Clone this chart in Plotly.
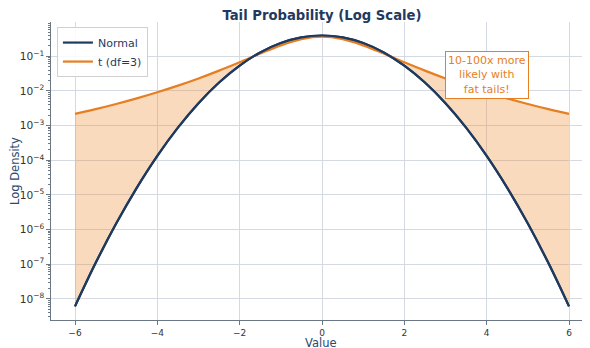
import plotly.graph_objects as go

x_vals = [-6.0, -5.5, -5.0, -4.5, -4.0, -3.5, -3.0, -2.5, -2.0, -1.5, -1.0, -0.5, 0.0,
          0.5, 1.0, 1.5, 2.0, 2.5, 3.0, 3.5, 4.0, 4.5, 5.0, 5.5, 6.0]
normal_half = [6.0759e-9, 1.0764e-7, 1.4867e-6, 1.5984e-5, 1.3383e-4, 8.7268e-4, 4.4318e-3,
               1.7528e-2, 5.3991e-2, 0.12952, 0.24197, 0.35207, 0.39894]
t3_half = [2.1749e-3, 2.9922e-3, 4.2194e-3, 6.1195e-3, 9.1633e-3, 1.4224e-2, 2.2972e-2,
           3.8662e-2, 6.7510e-2, 0.12002, 0.20675, 0.31318, 0.36755]
normal_vals = normal_half + normal_half[-2::-1]
t3_vals = t3_half + t3_half[-2::-1]

x_ticks = [-6, -4, -2, 0, 2, 4, 6]
annotation_text = "10-100x more<br>likely with<br>fat tails!"

NAVY = "#1f3a5f"
ORANGE = "#e67e22"
LABEL = "#2c4a6e"
FONT = "DejaVu Sans"

fig = go.Figure()
fig.add_trace(go.Scatter(
    x=x_vals, y=normal_vals, mode="lines", name="Normal",
    line=dict(color=NAVY, width=2.2, shape="spline"),
))
fig.add_trace(go.Scatter(
    x=x_vals, y=t3_vals, mode="lines", name="fill", showlegend=False, hoverinfo="skip",
    line=dict(color="rgba(0,0,0,0)", width=0, shape="spline"),
    fill="tonexty", fillcolor="rgba(235,140,50,0.32)",
))
fig.add_trace(go.Scatter(
    x=x_vals, y=t3_vals, mode="lines", name="t (df=3)",
    line=dict(color=ORANGE, width=2.2, shape="spline"),
))
fig.add_trace(go.Scatter(
    x=x_vals, y=normal_vals, mode="lines", name="Normal", showlegend=False, hoverinfo="skip",
    line=dict(color=NAVY, width=2.2, shape="spline"),
))

fig.add_annotation(
    x=4.0, y=-1.53, xref="x", yref="y", text=annotation_text, showarrow=False,
    font=dict(family=FONT, size=11, color=ORANGE),
    bgcolor="white", bordercolor=ORANGE, borderwidth=1, borderpad=2,
)
# axis titles as annotations for exact placement
fig.add_annotation(
    x=0.5, y=-0.077, xref="paper", yref="paper", text="Value", showarrow=False,
    xanchor="center", yanchor="middle",
    font=dict(family=FONT, size=11.5, color=LABEL),
)
fig.add_annotation(
    x=-0.0668, y=0.5, xref="paper", yref="paper", text="Log Density", showarrow=False,
    xanchor="center", yanchor="middle", textangle=-90,
    font=dict(family=FONT, size=11.5, color=LABEL),
)

# page has an 8px body margin, so the figure is sized to end at the window edge
fig.update_layout(
    width=582, height=340,
    margin=dict(l=43, r=0, t=14, b=28, autoexpand=False),
    paper_bgcolor="white", plot_bgcolor="white",
    font=dict(family=FONT, color="#333333"),
    title=dict(text="<b>Tail Probability (Log Scale)</b>", x=0.5395, xanchor="center",
               y=0.979, yanchor="middle", yref="container",
               font=dict(family=FONT, size=13.2, color=NAVY)),
    legend=dict(x=0.011, y=0.983, xanchor="left", yanchor="top", traceorder="normal",
                bgcolor="rgba(255,255,255,0.85)", bordercolor="#d0d0d0", borderwidth=1,
                font=dict(family=FONT, size=11, color=NAVY), itemwidth=30,
                tracegroupgap=0),
    showlegend=True,
)

fig.update_xaxes(
    range=[-6.583, 6.51], tickvals=x_ticks,
    ticktext=[("\u2212" + str(-v)) if v < 0 else str(v) for v in x_ticks],
    showgrid=True, gridcolor="#d5d9e2", gridwidth=1, zeroline=False,
    showline=True, linecolor="#6b7785", linewidth=1.2, automargin=False,
    ticks="outside", ticklen=4, tickcolor="#6b7785",
    tickfont=dict(family=FONT, size=9, color="#333333"),
)
fig.update_yaxes(
    type="log", range=[-8.61, -0.01], dtick=1, exponentformat="power",
    showgrid=True, gridcolor="#d5d9e2", gridwidth=1, zeroline=False,
    showline=True, linecolor="#6b7785", linewidth=1.2, automargin=False,
    ticks="outside", ticklen=4, tickcolor="#6b7785",
    tickfont=dict(family=FONT, size=8.5, color="#333333"),
    minor=dict(ticks="outside", ticklen=2, tickcolor="#6b7785", dtick="D1", showgrid=False),
)

fig.write_html("out.html")
